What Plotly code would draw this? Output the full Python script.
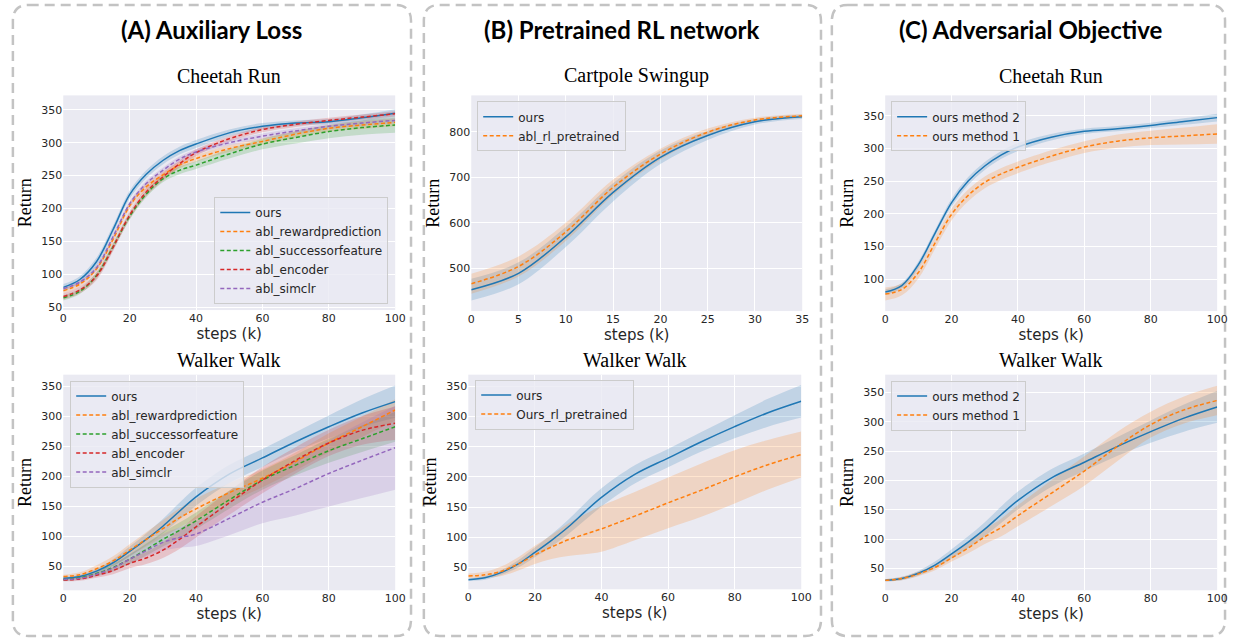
import plotly.graph_objects as go

W, H = 1239, 643

# ---------------- data ----------------
steps = [0, 5, 10, 15, 20, 25, 30, 35, 40, 50, 60, 70, 80, 90, 100]
steps_cp = [0, 5, 10, 15, 20, 25, 30, 35]

# (A) Cheetah Run
a_ch_ours = [80, 92, 119, 168, 221, 252, 273, 288, 298, 315, 325, 330, 332, 338, 345]
a_ch_rew = [75, 85, 108, 153, 204, 233, 251, 266, 276, 291, 302, 313, 322, 327, 331]
a_ch_succ = [64, 74, 98, 142, 188, 222, 245, 258, 266, 283, 298, 308, 317, 323, 327]
a_ch_enc = [66, 76, 97, 141, 190, 225, 248, 268, 285, 306, 320, 328, 334, 339, 344]
a_ch_sim = [78, 88, 110, 157, 207, 238, 258, 275, 286, 300, 310, 318, 325, 330, 334]
a_ch_ours_sd = [5, 5, 6, 6, 6, 6, 6, 6, 6, 5, 5, 4, 4, 5, 6]
a_ch_rew_sd = [4, 4, 4, 5, 5, 5, 5, 5, 5, 5, 5, 5, 5, 6, 6]
a_ch_succ_sd = [4, 4, 5, 5, 5, 5, 5, 6, 6, 7, 8, 9, 10, 11, 12]
a_ch_enc_sd = [5, 5, 6, 6, 6, 6, 6, 5, 5, 4, 4, 4, 4, 4, 4]
a_ch_sim_sd = [3, 3, 4, 4, 4, 4, 4, 4, 4, 4, 4, 4, 4, 4, 4]

# Walker Walk (shared "ours")
wk_ours = [30, 33, 42, 56, 75, 95, 117, 142, 166, 204, 231, 258, 283, 306, 325]
wk_ours_sd = [2, 3, 4, 6, 8, 10, 12, 14, 15, 15, 15, 16, 19, 23, 27]
a_wk_rew = [33, 36, 46, 59, 77, 95, 113, 131, 146, 173, 197, 225, 256, 283, 311]
a_wk_succ = [28, 31, 38, 48, 62, 78, 95, 110, 126, 161, 194, 219, 243, 263, 283]
a_wk_enc = [27, 29, 35, 43, 55, 64, 77, 95, 116, 156, 194, 227, 256, 277, 289]
a_wk_sim = [28, 30, 37, 47, 62, 76, 90, 98, 104, 130, 157, 180, 205, 227, 248]
a_wk_rew_sd = [3, 4, 6, 8, 10, 12, 14, 16, 17, 16, 15, 15, 16, 17, 18]
a_wk_succ_sd = [2, 3, 4, 6, 8, 10, 12, 13, 14, 15, 16, 17, 20, 22, 25]
a_wk_enc_sd = [2, 3, 4, 6, 8, 10, 13, 16, 18, 20, 22, 22, 22, 24, 28]
a_wk_sim_sd = [3, 3, 4, 6, 8, 10, 14, 17, 20, 28, 35, 45, 55, 63, 70]

# (B) Cartpole Swingup
b_cp_ours = [453, 489, 569, 667, 744, 792, 822, 833]
b_cp_pre = [466, 504, 580, 678, 751, 799, 826, 835]
b_cp_ours_sd = [24, 24, 22, 20, 15, 10, 6, 5]
b_cp_pre_sd = [22, 22, 20, 17, 12, 8, 5, 4]
# (B) Walker Walk
b_wk_pre = [36, 38, 44, 56, 71, 84, 96, 105, 114, 135, 157, 178, 200, 220, 237]
b_wk_pre_sd = [4, 5, 8, 11, 15, 20, 27, 33, 38, 40, 42, 44, 44, 41, 38]

# (C) Cheetah Run
c_ch_m2 = [80, 90, 122, 170, 217, 250, 273, 290, 302, 317, 326, 330, 335, 341, 347]
c_ch_m1 = [77, 84, 110, 155, 199, 228, 248, 261, 271, 288, 302, 311, 316, 319, 322]
c_ch_m2_sd = [4, 4, 5, 5, 6, 6, 6, 6, 6, 5, 4, 4, 4, 5, 6]
c_ch_m1_sd = [10, 9, 9, 9, 9, 9, 9, 9, 9, 9, 9, 10, 11, 13, 15]
# (C) Walker Walk
c_wk_m1 = [30, 33, 41, 52, 68, 85, 104, 120, 140, 178, 216, 258, 295, 320, 336]
c_wk_m1_sd = [2, 3, 4, 5, 6, 9, 12, 15, 18, 22, 25, 25, 22, 23, 25]

BLUE, ORANGE, GREEN, RED, PURPLE = "#1f77b4", "#ff7f0e", "#2ca02c", "#d62728", "#9467bd"
FILL = {BLUE: "rgba(31,119,180,0.2)", ORANGE: "rgba(255,127,14,0.2)",
        GREEN: "rgba(44,160,44,0.2)", RED: "rgba(214,39,40,0.2)",
        PURPLE: "rgba(148,103,189,0.2)"}

fig = go.Figure()


def px_x(x):
    return x / W


def px_y(y):
    return 1 - y / H


def add_band(idx, x, mean, sd, color, legend):
    ax = "" if idx == 1 else str(idx)
    lo = [m - s for m, s in zip(mean, sd)]
    hi = [m + s for m, s in zip(mean, sd)]
    fig.add_trace(go.Scatter(x=x, y=lo, mode="lines", line=dict(width=0, shape="spline", smoothing=1.0),
                             showlegend=False, hoverinfo="skip", xaxis="x" + ax, yaxis="y" + ax,
                             legend=legend))
    fig.add_trace(go.Scatter(x=x, y=hi, mode="lines", line=dict(width=0, shape="spline", smoothing=1.0),
                             fill="tonexty", fillcolor=FILL[color], showlegend=False, hoverinfo="skip",
                             xaxis="x" + ax, yaxis="y" + ax, legend=legend))


def add_line(idx, x, mean, color, name, dash, legend):
    ax = "" if idx == 1 else str(idx)
    fig.add_trace(go.Scatter(x=x, y=mean, mode="lines", name=name,
                             line=dict(color=color, width=1.5, dash=dash, shape="spline", smoothing=1.0),
                             xaxis="x" + ax, yaxis="y" + ax, legend=legend))


DASH = "4px,2.5px"

panels = [
    (1, steps, [(a_ch_ours, a_ch_ours_sd, BLUE, "ours", "solid"),
                (a_ch_rew, a_ch_rew_sd, ORANGE, "abl_rewardprediction", DASH),
                (a_ch_succ, a_ch_succ_sd, GREEN, "abl_successorfeature", DASH),
                (a_ch_enc, a_ch_enc_sd, RED, "abl_encoder", DASH),
                (a_ch_sim, a_ch_sim_sd, PURPLE, "abl_simclr", DASH)], "legend"),
    (2, steps, [(wk_ours, wk_ours_sd, BLUE, "ours", "solid"),
                (a_wk_rew, a_wk_rew_sd, ORANGE, "abl_rewardprediction", DASH),
                (a_wk_succ, a_wk_succ_sd, GREEN, "abl_successorfeature", DASH),
                (a_wk_enc, a_wk_enc_sd, RED, "abl_encoder", DASH),
                (a_wk_sim, a_wk_sim_sd, PURPLE, "abl_simclr", DASH)], "legend2"),
    (3, steps_cp, [(b_cp_ours, b_cp_ours_sd, BLUE, "ours", "solid"),
                   (b_cp_pre, b_cp_pre_sd, ORANGE, "abl_rl_pretrained", DASH)], "legend3"),
    (4, steps, [(wk_ours, wk_ours_sd, BLUE, "ours", "solid"),
                (b_wk_pre, b_wk_pre_sd, ORANGE, "Ours_rl_pretrained", DASH)], "legend4"),
    (5, steps, [(c_ch_m2, c_ch_m2_sd, BLUE, "ours method 2", "solid"),
                (c_ch_m1, c_ch_m1_sd, ORANGE, "ours method 1", DASH)], "legend5"),
    (6, steps, [(wk_ours, wk_ours_sd, BLUE, "ours method 2", "solid"),
                (c_wk_m1, c_wk_m1_sd, ORANGE, "ours method 1", DASH)], "legend6"),
]

for idx, x, series, leg in panels:
    for mean, sd, color, name, dash in series:
        add_band(idx, x, mean, sd, color, leg)
    for mean, sd, color, name, dash in series:
        add_line(idx, x, mean, color, name, dash, leg)

# ---------------- layout ----------------
plot_boxes = {
    1: (60, 396, 96, 312, [45.5, 372], [0, 100], 20, 50),
    2: (60, 396, 377, 594, [10, 370], [0, 100], 20, 50),
    3: (473, 808, 96, 313, [406, 880], [0, 35], 5, 100),
    4: (470, 807, 377, 593, [14, 369], [0, 100], 20, 50),
    5: (892, 1228, 96, 313, [51, 381], [0, 100], 20, 50),
    6: (892, 1228, 377, 594, [13, 380], [0, 100], 20, 50),
}

TICKFONT = dict(family="DejaVu Sans", size=11, color="#262626")
layout = dict(width=W, height=H, margin=dict(l=0, r=0, t=0, b=0),
              paper_bgcolor="white", plot_bgcolor="#EAEAF2", showlegend=True)

for idx, (x0, x1, y0, y1, yr, xr, dx, dy) in plot_boxes.items():
    ax = "" if idx == 1 else str(idx)
    layout["xaxis" + ax] = dict(domain=[px_x(x0), px_x(x1)], range=xr, dtick=dx, tick0=0,
                                anchor="y" + ax, showgrid=True, gridcolor="white", gridwidth=1,
                                zeroline=False, showline=False, ticks="", tickfont=TICKFONT,
                                title=dict(text="steps (k)", font=dict(family="DejaVu Sans", size=15, color="#262626"),
                                           standoff=2))
    layout["yaxis" + ax] = dict(domain=[px_y(y1), px_y(y0)], range=yr, dtick=dy, tick0=0,
                                anchor="x" + ax, showgrid=True, gridcolor="white", gridwidth=1,
                                zeroline=False, showline=False, ticks="", tickfont=TICKFONT,
                                title=dict(text="Return", font=dict(family="Liberation Serif", size=18, color="black"),
                                           standoff=4))

LEGFONT = dict(family="DejaVu Sans", size=12, color="#262626")
leg_common = dict(bgcolor="rgba(234,234,242,0.8)", bordercolor="#cccccc", borderwidth=1,
                  font=LEGFONT, tracegroupgap=0, itemwidth=30, traceorder="normal")
layout["legend"] = dict(x=px_x(389), y=px_y(306), xanchor="right", yanchor="bottom", **leg_common)
layout["legend2"] = dict(x=px_x(67), y=px_y(383), xanchor="left", yanchor="top", **leg_common)
layout["legend3"] = dict(x=px_x(479), y=px_y(102), xanchor="left", yanchor="top", **leg_common)
layout["legend4"] = dict(x=px_x(477), y=px_y(382), xanchor="left", yanchor="top", **leg_common)
layout["legend5"] = dict(x=px_x(898), y=px_y(102), xanchor="left", yanchor="top", **leg_common)
layout["legend6"] = dict(x=px_x(898), y=px_y(383), xanchor="left", yanchor="top", **leg_common)

fig.update_layout(**layout)

# titles
panel_titles = [("(A) Auxiliary Loss", 210), ("(B) Pretrained RL network", 626), ("(C) Adversarial Objective", 1039)]
for txt, cx in panel_titles:
    fig.add_annotation(text="<b>" + txt + "</b>", x=px_x(cx), y=px_y(30), xref="paper", yref="paper",
                       showarrow=False, font=dict(family="Lato", size=24, color="black"),
                       xanchor="center", yanchor="middle")

sub_titles = [("Cheetah Run", 228, 76), ("Walker Walk", 228, 362), ("Cartpole Swingup", 640, 76),
              ("Walker Walk", 639, 362), ("Cheetah Run", 1060, 76), ("Walker Walk", 1060, 362)]
for txt, cx, cy in sub_titles:
    fig.add_annotation(text=txt, x=px_x(cx), y=px_y(cy), xref="paper", yref="paper", showarrow=False,
                       font=dict(family="Liberation Serif", size=20, color="black"),
                       xanchor="center", yanchor="middle")


def rrect(x0, y0, x1, y1, r):
    X, Y = px_x, px_y
    return (f"M {X(x0 + r)},{Y(y0)} L {X(x1 - r)},{Y(y0)} Q {X(x1)},{Y(y0)} {X(x1)},{Y(y0 + r)} "
            f"L {X(x1)},{Y(y1 - r)} Q {X(x1)},{Y(y1)} {X(x1 - r)},{Y(y1)} "
            f"L {X(x0 + r)},{Y(y1)} Q {X(x0)},{Y(y1)} {X(x0)},{Y(y1 - r)} "
            f"L {X(x0)},{Y(y0 + r)} Q {X(x0)},{Y(y0)} {X(x0 + r)},{Y(y0)} Z")


for bx0, bx1 in [(9, 412), (425, 827), (838, 1236)]:
    fig.add_shape(type="path", path=rrect(bx0, 5, bx1, 640, 16), xref="paper", yref="paper",
                  line=dict(color="#c3c3c3", width=2.5, dash="10px,6px"), layer="below")

fig.write_html("out.html", config={"displayModeBar": False},
               post_script="document.body.style.margin='0';document.body.style.overflow='hidden';")
